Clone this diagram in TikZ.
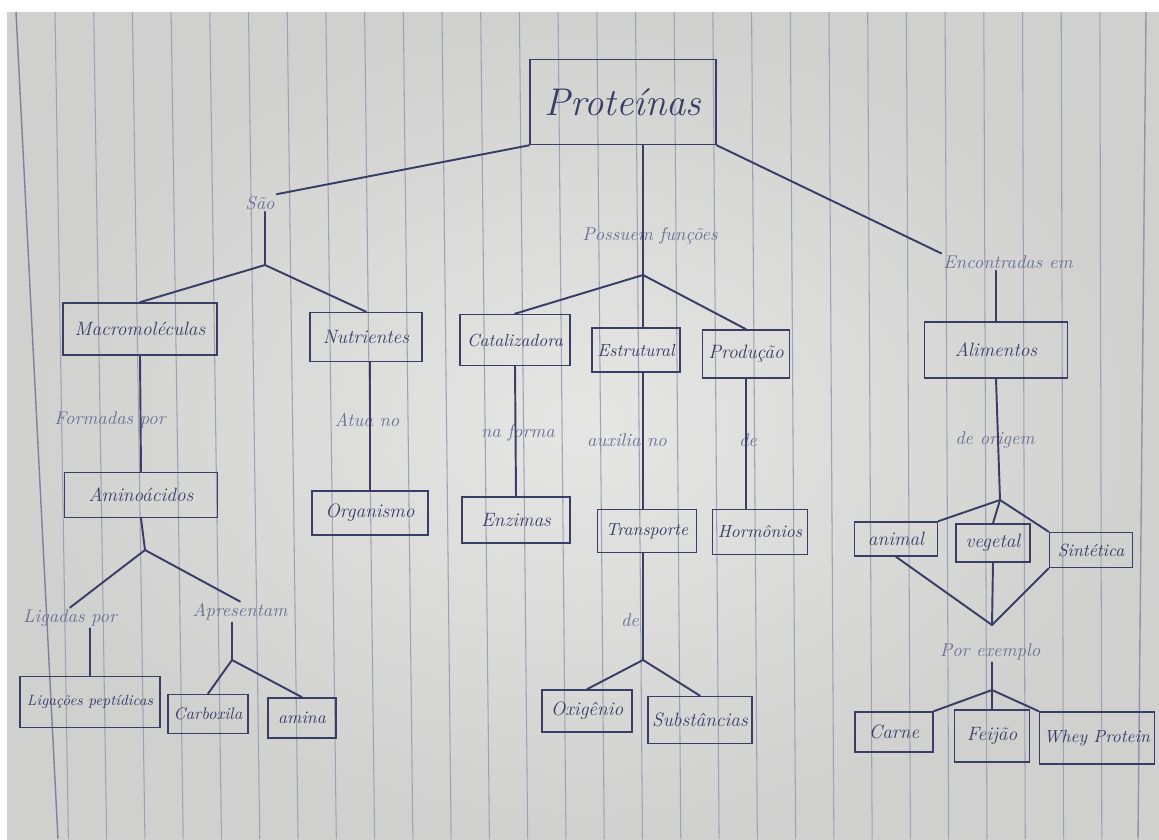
\documentclass[tikz,border=0pt]{standalone}
\usepackage{tikz}
\usetikzlibrary{positioning}

\definecolor{ink}{HTML}{3A3D66}
\definecolor{pencil}{HTML}{6E7396}
\definecolor{paperin}{HTML}{E6E6E4}
\definecolor{paperout}{HTML}{D0D0CF}
\definecolor{rule}{HTML}{9EA2B6}

\tikzset{
  box/.style={draw=ink, line width=0.9pt, text=ink, inner sep=1pt,
    font=\fontsize{11}{13}\selectfont\itshape},
  sz/.style 2 args={minimum width=#1*0.02cm, minimum height=#2*0.02cm},
  word/.style={text=pencil, inner sep=1pt, font=\fontsize{10.5}{12}\selectfont\itshape},
  link/.style={draw=ink, line width=1.1pt, line cap=round}
}

\begin{document}
\begin{tikzpicture}[x=0.02cm, y=-0.02cm]
  \useasboundingbox (0,0) rectangle (1159,839);

  % Sheet of ruled paper
  \fill[white] (0,0) rectangle (1159,839);
  \shade[inner color=paperin, outer color=paperout] (7,12) rectangle (1159,839);
  \foreach \i in {0,...,27} {
    \draw[rule, line width=0.6pt] ({55+38.7*\i},12) -- ({55+38.7*\i+14-0.011*(55+38.7*\i)},839);
  }
  % margin lines
  \draw[ink!65, line width=0.8pt] (16,12) -- (58,839);
  \draw[ink!55, line width=0.8pt] (1146,12) -- (1138,839);

  % Top concept
  \node[box, sz={186}{85}, font=\fontsize{22}{24}\selectfont\itshape] (prot) at (623,102) {Proteínas};

  % Linking words
  \node[word] (sao) at (260,203) {São};
  \node[word] (funcoes) at (650,236) {Possuem funções};
  \node[word] (encontradas) at (1008,262) {Encontradas em};
  \node[word] (formadas) at (110,420) {Formadas por};
  \node[word] (atua) at (367,420) {Atua no};
  \node[word] (naforma) at (518,433) {na forma};
  \node[word] (auxilia) at (627,440) {auxilia no};
  \node[word] (deprod) at (748,440) {de};
  \node[word] (deorigem) at (995,440) {de origem};
  \node[word] (ligadas) at (70,618) {Ligadas por};
  \node[word] (apresentam) at (240,612) {Apresentam};
  \node[word] (detransp) at (630,620) {de};
  \node[word] (porex) at (990,652) {Por exemplo};

  % Concepts
  \node[box, sz={154}{52}] (macro) at (140,329) {Macromoléculas};
  \node[box, sz={112}{49}] (nutri) at (366,337) {Nutrientes};
  \node[box, sz={110}{51}, font=\fontsize{10}{12}\selectfont\itshape] (catal) at (515,340) {Catalizadora};
  \node[box, sz={88}{44}, font=\fontsize{10}{12}\selectfont\itshape] (estr) at (636,350) {Estrutural};
  \node[box, sz={87}{48}] (prod) at (746,354) {Produção};
  \node[box, sz={143}{56}] (alim) at (996,350) {Alimentos};
  \node[box, sz={153}{45}] (amino) at (141,495) {Aminoácidos};
  \node[box, sz={116}{44}] (organ) at (370,513) {Organismo};
  \node[box, sz={108}{46}] (enz) at (516,520) {Enzimas};
  \node[box, sz={99}{43}, font=\fontsize{10}{12}\selectfont\itshape] (transp) at (647,531) {Transporte};
  \node[box, sz={95}{45}, font=\fontsize{10}{12}\selectfont\itshape] (horm) at (760,532) {Hormônios};
  \node[box, sz={83}{34}] (animal) at (896,539) {animal};
  \node[box, sz={74}{38}] (vegetal) at (993,543) {vegetal};
  \node[box, sz={83}{35}, font=\fontsize{10}{12}\selectfont\itshape] (sint) at (1091,550) {Sintética};
  \node[box, sz={140}{51}, font=\fontsize{8.5}{10}\selectfont\itshape] (ligpep) at (90,702) {Ligações peptídicas};
  \node[box, sz={80}{39}, font=\fontsize{9.5}{11}\selectfont\itshape] (carbox) at (208,714) {Carboxila};
  \node[box, sz={68}{40}, font=\fontsize{10}{12}\selectfont\itshape] (amina) at (302,718) {amina};
  \node[box, sz={90}{42}] (oxig) at (587,711) {Oxigênio};
  \node[box, sz={104}{47}] (subst) at (700,720) {Substâncias};
  \node[box, sz={78}{40}] (carne) at (894,732) {Carne};
  \node[box, sz={75}{52}] (feijao) at (992,736) {Feijão};
  \node[box, sz={115}{52}, font=\fontsize{10}{12}\selectfont\itshape] (whey) at (1097,738) {Whey Protein};

  % Branch points
  \coordinate (jsao) at (265,265);
  \coordinate (jfunc) at (643,275);
  \coordinate (jamino) at (145,550);
  \coordinate (japres) at (232,660);
  \coordinate (jtransp) at (643,660);
  \coordinate (jorig) at (1000,500);
  \coordinate (jvee) at (992,625);
  \coordinate (jex) at (992,690);

  % Connectors from the top
  \draw[link] (prot.south west) -- (sao.north east);
  \draw[link] (prot.south -| jfunc) -- (jfunc);
  \draw[link] (prot.south east) -- (encontradas.north west);

  % Left branch
  \draw[link] (sao.south -| jsao) -- (jsao);
  \draw[link] (jsao) -- (macro.north);
  \draw[link] (jsao) -- (nutri.north);
  \draw[link] (macro.south) -- (amino.north);
  \draw[link] (nutri.south -| organ.north) -- (organ.north);
  \draw[link] (amino.south) -- (jamino);
  \draw[link] (jamino) -- (ligadas.north);
  \draw[link] (jamino) -- (apresentam.north);
  \draw[link] (ligadas.south -| ligpep.north) -- (ligpep.north);
  \draw[link] (apresentam.south -| japres) -- (japres);
  \draw[link] (japres) -- (carbox.north);
  \draw[link] (japres) -- (amina.north);

  % Middle branch
  \draw[link] (jfunc) -- (catal.north);
  \draw[link] (jfunc) -- (estr.north -| jfunc);
  \draw[link] (jfunc) -- (prod.north);
  \draw[link] (catal.south) -- (enz.north);
  \draw[link] (estr.south -| jfunc) -- (transp.north -| jfunc);
  \draw[link] (prod.south) -- (prod.south |- horm.north);
  \draw[link] (transp.south -| jtransp) -- (jtransp);
  \draw[link] (jtransp) -- (oxig.north);
  \draw[link] (jtransp) -- (subst.north);

  % Right branch
  \draw[link] (encontradas.south -| alim) -- (alim.north);
  \draw[link] (alim.south) -- (jorig);
  \draw[link] (jorig) -- (animal.north east);
  \draw[link] (jorig) -- (vegetal.north);
  \draw[link] (jorig) -- (sint.north west);
  \draw[link] (animal.south) -- (jvee);
  \draw[link] (vegetal.south) -- (jvee);
  \draw[link] (sint.south west) -- (jvee);
  \draw[link] (porex.south -| jex) -- (jex);
  \draw[link] (jex) -- (carne.north east);
  \draw[link] (jex) -- (feijao.north);
  \draw[link] (jex) -- (whey.north west);
\end{tikzpicture}
\end{document}
